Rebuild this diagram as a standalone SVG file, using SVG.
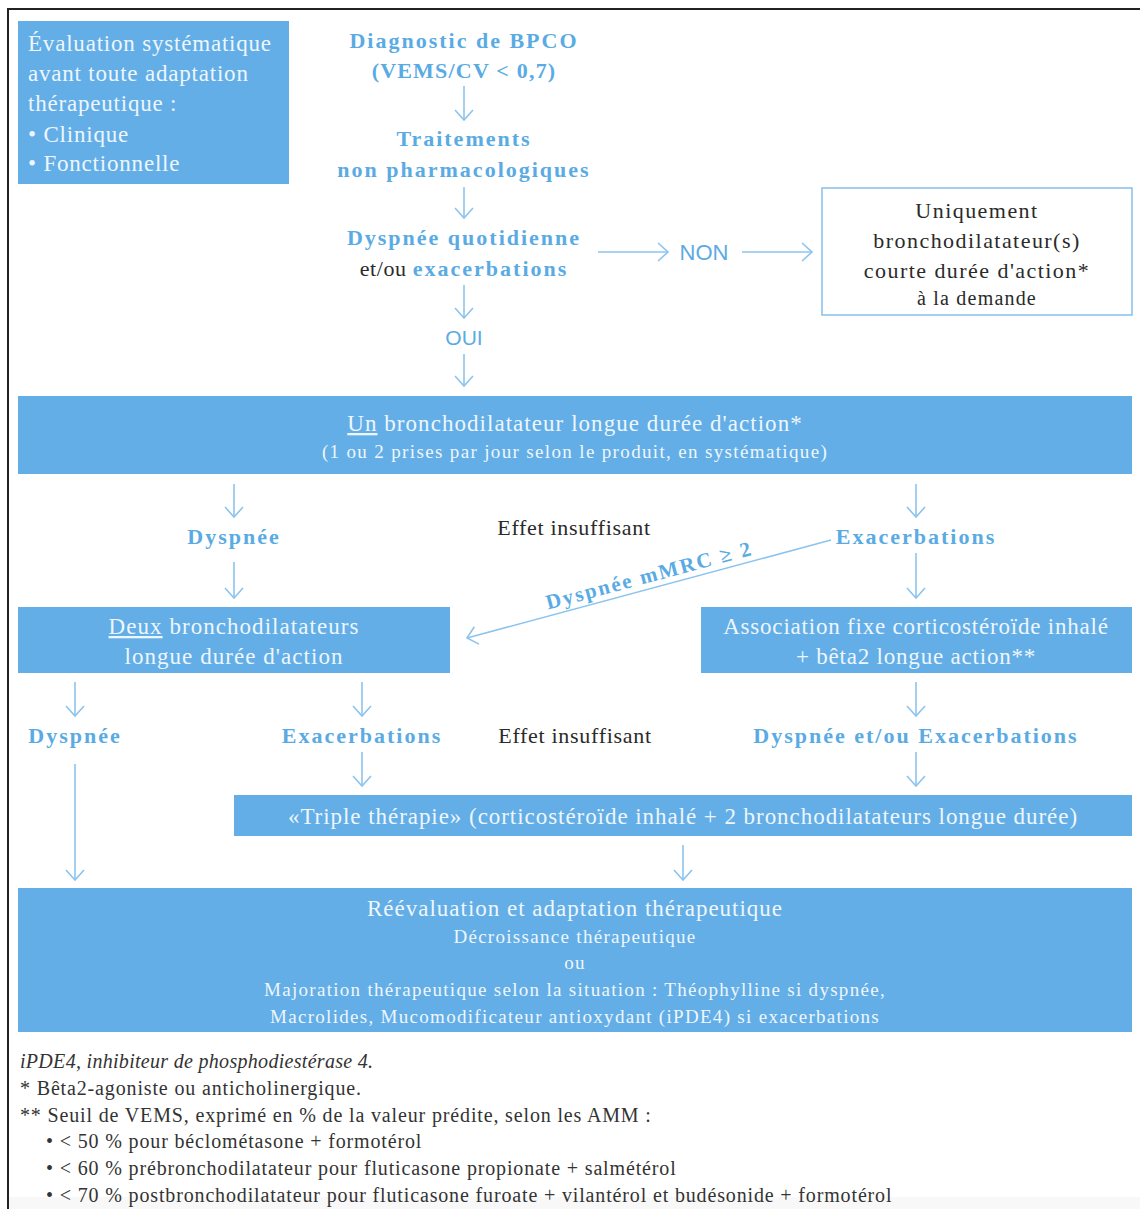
<svg xmlns="http://www.w3.org/2000/svg" width="1140" height="1209" viewBox="0 0 1140 1209">
<defs>
<style>
.box{fill:#63aee6;}
.wbox{fill:#ffffff;stroke:#8cc4ee;stroke-width:1.6;}
.wt{font-family:"Liberation Serif",serif;fill:#eef6fd;text-anchor:middle;}
.bt{font-family:"Liberation Serif",serif;font-weight:bold;fill:#5aabe3;text-anchor:middle;letter-spacing:2px;}
.dt{font-family:"Liberation Serif",serif;fill:#2a2a2a;}
.st{font-family:"Liberation Sans",sans-serif;fill:#5aabe3;}
.ar{stroke:#8cc4ee;stroke-width:1.6;fill:none;marker-end:url(#ah);}
.ft{font-family:"Liberation Serif",serif;fill:#333333;font-size:20px;letter-spacing:0.85px;}
</style>
<marker id="ah" viewBox="-12 -11 14 22" refX="0" refY="0" markerWidth="14" markerHeight="22" markerUnits="userSpaceOnUse" orient="auto">
<path d="M-10,-9 L0,0 L-10,9" fill="none" stroke="#8cc4ee" stroke-width="1.6"/>
</marker>
</defs>
<rect x="0" y="0" width="1140" height="1209" fill="#ffffff"/>
<rect x="8" y="1197" width="1132" height="12" fill="#f8f8f8"/>
<path d="M8,1209 L8,9 L1140,9" fill="none" stroke="#222222" stroke-width="2"/>

<g id="eval">
<rect class="box" x="18" y="21" width="271" height="163"/>
<text class="wt" style="text-anchor:start;letter-spacing:0.8px" font-size="23"><tspan x="28" y="51">Évaluation systématique</tspan><tspan x="28" y="81">avant toute adaptation</tspan><tspan x="28" y="111">thérapeutique :</tspan><tspan x="28" y="142">• Clinique</tspan><tspan x="28" y="171">• Fonctionnelle</tspan></text>
</g>

<g id="diag">
<text class="bt" font-size="22"><tspan x="464" y="48">Diagnostic de BPCO</tspan><tspan x="464" y="78" style="letter-spacing:1.2px">(VEMS/CV &lt; 0,7)</tspan></text>
</g>
<g id="trait">
<text class="bt" font-size="22"><tspan x="464" y="146">Traitements</tspan><tspan x="464" y="177">non pharmacologiques</tspan></text>
</g>
<g id="dysq">
<text class="bt" font-size="22"><tspan x="464" y="245">Dyspnée quotidienne</tspan><tspan x="464" y="276"><tspan style="font-weight:normal;fill:#2a2a2a;letter-spacing:0.6px">et/ou </tspan>exacerbations</tspan></text>
</g>
<g id="oui"><text class="st" font-size="21" x="464" y="345" text-anchor="middle">OUI</text></g>
<g id="non"><text class="st" font-size="22" x="704" y="260" text-anchor="middle">NON</text></g>

<g id="uniq">
<rect class="wbox" x="822" y="188" width="310" height="127"/>
<text class="dt" font-size="22" text-anchor="middle" style="letter-spacing:1.45px"><tspan x="977" y="218">Uniquement</tspan><tspan x="977" y="248">bronchodilatateur(s)</tspan><tspan x="977" y="278">courte durée d'action*</tspan><tspan x="977" y="305" font-size="20" style="letter-spacing:1.2px">à la demande</tspan></text>
</g>

<g id="un">
<rect class="box" x="18" y="396" width="1114" height="78"/>
<text class="wt" font-size="23" x="575" y="431" style="letter-spacing:1.05px"><tspan text-decoration="underline">Un</tspan> bronchodilatateur longue durée d'action*</text>
<text class="wt" font-size="19" x="575" y="458" style="letter-spacing:1.35px">(1 ou 2 prises par jour selon le produit, en systématique)</text>
</g>

<g id="dysp1"><text class="bt" font-size="22" x="234" y="544">Dyspnée</text></g>
<g id="exa1"><text class="bt" font-size="22" x="916" y="544">Exacerbations</text></g>
<g id="eff1"><text class="dt" font-size="22" x="574" y="535" text-anchor="middle" style="letter-spacing:0.7px">Effet insuffisant</text></g>
<g id="mmrc"><text class="bt" font-size="21" transform="translate(651,582) rotate(-15)" x="0" y="0">Dyspnée mMRC ≥ 2</text></g>

<g id="deux">
<rect class="box" x="18" y="607" width="432" height="66"/>
<text class="wt" font-size="23" style="letter-spacing:1.05px"><tspan x="234" y="634"><tspan text-decoration="underline">Deux</tspan> bronchodilatateurs</tspan><tspan x="234" y="664">longue durée d'action</tspan></text>
</g>
<g id="assoc">
<rect class="box" x="701" y="607" width="431" height="66"/>
<text class="wt" font-size="23" style="letter-spacing:0.8px"><tspan x="916" y="634">Association fixe corticostéroïde inhalé</tspan><tspan x="916" y="664">+ bêta2 longue action**</tspan></text>
</g>

<g id="dysp2"><text class="bt" font-size="22" x="75" y="743">Dyspnée</text></g>
<g id="exa2"><text class="bt" font-size="22" x="362" y="743">Exacerbations</text></g>
<g id="eff2"><text class="dt" font-size="22" x="575" y="743" text-anchor="middle" style="letter-spacing:0.7px">Effet insuffisant</text></g>
<g id="dyex"><text class="bt" font-size="22" x="916" y="743">Dyspnée et/ou Exacerbations</text></g>

<g id="triple">
<rect class="box" x="234" y="795" width="898" height="41"/>
<text class="wt" font-size="23" x="683" y="824" style="letter-spacing:0.95px">«Triple thérapie» (corticostéroïde inhalé + 2 bronchodilatateurs longue durée)</text>
</g>

<g id="reev">
<rect class="box" x="18" y="888" width="1114" height="144"/>
<text class="wt" font-size="23" x="575" y="916" style="letter-spacing:1px">Réévaluation et adaptation thérapeutique</text>
<text class="wt" font-size="19" style="letter-spacing:1.3px"><tspan x="575" y="943">Décroissance thérapeutique</tspan><tspan x="575" y="969">ou</tspan><tspan x="575" y="996">Majoration thérapeutique selon la situation : Théophylline si dyspnée,</tspan><tspan x="575" y="1023">Macrolides, Mucomodificateur antioxydant (iPDE4) si exacerbations</tspan></text>
</g>

<g id="notes">
<text class="ft" x="20" y="1068" font-style="italic" style="letter-spacing:0.3px">iPDE4, inhibiteur de phosphodiestérase 4.</text>
<text class="ft" x="20" y="1095">* Bêta2-agoniste ou anticholinergique.</text>
<text class="ft" x="20" y="1122">** Seuil de VEMS, exprimé en % de la valeur prédite, selon les AMM :</text>
<text class="ft" x="46" y="1148">• &lt; 50 % pour béclométasone + formotérol</text>
<text class="ft" x="46" y="1175">• &lt; 60 % prébronchodilatateur pour fluticasone propionate + salmétérol</text>
<text class="ft" x="46" y="1202">• &lt; 70 % postbronchodilatateur pour fluticasone furoate + vilantérol et budésonide + formotérol</text>
</g>

<g id="connectors">
<line class="ar" x1="464" y1="86" x2="464" y2="120"/>
<line class="ar" x1="464" y1="187" x2="464" y2="218"/>
<line class="ar" x1="464" y1="285" x2="464" y2="318"/>
<line class="ar" x1="464" y1="354" x2="464" y2="386"/>
<line class="ar" x1="598" y1="252" x2="668" y2="252"/>
<line class="ar" x1="742" y1="252" x2="812" y2="252"/>
<line class="ar" x1="234" y1="484" x2="234" y2="517"/>
<line class="ar" x1="234" y1="562" x2="234" y2="598"/>
<line class="ar" x1="916" y1="484" x2="916" y2="517"/>
<line class="ar" x1="916" y1="553" x2="916" y2="598"/>
<line class="ar" x1="831" y1="540" x2="467" y2="638"/>
<line class="ar" x1="75" y1="682" x2="75" y2="716"/>
<line class="ar" x1="362" y1="682" x2="362" y2="716"/>
<line class="ar" x1="916" y1="682" x2="916" y2="716"/>
<line class="ar" x1="362" y1="752" x2="362" y2="786"/>
<line class="ar" x1="916" y1="752" x2="916" y2="786"/>
<line class="ar" x1="75" y1="764" x2="75" y2="880"/>
<line class="ar" x1="683" y1="845" x2="683" y2="880"/>
</g>
</svg>
